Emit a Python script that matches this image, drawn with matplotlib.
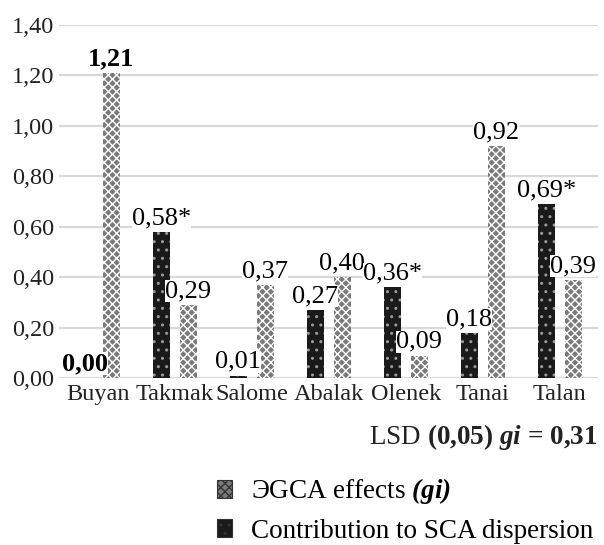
import numpy as np
import matplotlib
matplotlib.use('Agg')
import matplotlib.pyplot as plt

plt.rcParams['font.family'] = ['Liberation Serif', 'DejaVu Serif']
plt.rcParams['mathtext.fontset'] = 'custom'
plt.rcParams['mathtext.rm'] = 'Liberation Serif'
plt.rcParams['mathtext.it'] = 'Liberation Serif:italic'
plt.rcParams['mathtext.bf'] = 'Liberation Serif:bold'
plt.rcParams['mathtext.bfit'] = 'Liberation Serif:bold:italic'
plt.rcParams['hatch.linewidth'] = 1.0

# varieties and their effects
varieties = ['Buyan', 'Takmak', 'Salome', 'Abalak', 'Olenek', 'Tanai', 'Talan']
sca = [0.00, 0.58, 0.01, 0.27, 0.36, 0.18, 0.69]
gca = [1.21, 0.29, 0.37, 0.40, 0.09, 0.92, 0.39]
sca_mark = ['', '*', '', '', '*', '', '*']
yticks = [0.0, 0.2, 0.4, 0.6, 0.8, 1.0, 1.2, 1.4]

fig = plt.figure(figsize=(6.04, 5.45), dpi=100)
ax = fig.add_axes([0.0985, 0.306, 0.892, 0.6486])

x = np.arange(len(varieties))
w = 0.22
off = 0.175

b1 = ax.bar(x - off, sca, w, color='#1a1a1a', edgecolor='#9a9a9a', linewidth=0,
            hatch='..', zorder=3, label='Contribution to SCA dispersion')
b2 = ax.bar(x + off, gca, w, color='#7a7a7a', edgecolor='white', linewidth=0,
            hatch='xxxx', zorder=3,
            label='$\\mathrm{\u042dGCA\\ effects}\\ \\mathbfit{(gi)}$')

box = dict(facecolor='white', edgecolor='none', pad=0)
for i in range(len(varieties)):
    wt = 'bold' if i == 0 else 'normal'
    ax.annotate(f'{sca[i]:.2f}'.replace('.', ',') + sca_mark[i], (x[i] - off, sca[i]),
                xytext=(0, 2), textcoords='offset points', ha='center', va='bottom',
                fontsize=19, fontweight=wt, bbox=box, zorder=4)
    ax.annotate(f'{gca[i]:.2f}'.replace('.', ','), (x[i] + off, gca[i]),
                xytext=(0, 2), textcoords='offset points', ha='center', va='bottom',
                fontsize=19, fontweight=wt, bbox=box, zorder=4)

ax.set_xlim(-0.5, len(varieties) - 0.5)
ax.set_ylim(0, 1.4)
ax.set_yticks(yticks)
ax.set_yticklabels([f'{v:.2f}'.replace('.', ',') for v in yticks], fontsize=17.5)
ax.set_xticks(x)
ax.set_xticklabels(varieties, fontsize=17.5)
ax.tick_params(length=0, pad=4, colors='#222222')
ax.grid(axis='y', color='#d9d9d9', linewidth=1.6, zorder=0)
for s in ax.spines.values():
    s.set_visible(False)

# LSD note: "LSD" regular, the rest bold
fig.text(0.99, 0.198, '$\\mathrm{LSD}$ (0,05) $\\mathbfit{gi}$ = 0,31',
         ha='right', va='center', fontsize=19.5, fontweight='bold', color='#222222')

leg = fig.legend(handles=[b2, b1], loc='upper left', bbox_to_anchor=(0.36, 0.126),
                 frameon=False, fontsize=19.5, handlelength=0.55, handleheight=0.65,
                 handletextpad=0.7, labelspacing=0.45, borderpad=0, borderaxespad=0)
for h in leg.legend_handles:
    h.set_edgecolor('#333333')
    h.set_linewidth(0.8)

plt.savefig('out.png', dpi=100)
